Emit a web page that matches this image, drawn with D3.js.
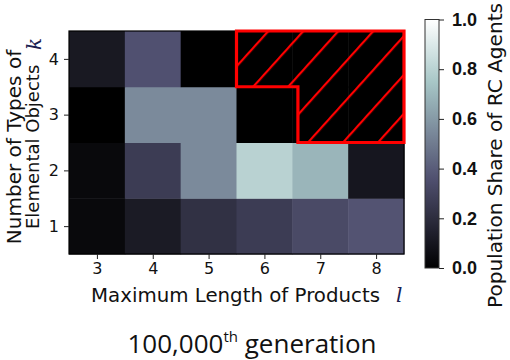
<!DOCTYPE html>
<html><head><meta charset="utf-8">
<script src="https://cdn.jsdelivr.net/npm/d3@7"></script>
<style>body{margin:0;background:#fff}svg{display:block}</style>
</head><body>
<svg id="c" width="510" height="360"></svg>
<script>
const lengths = [3, 4, 5, 6, 7, 8];
const types = [1, 2, 3, 4];
// rows by k (1..4), columns by l (3..8); null = not computed (hatched)
const shareK1 = [0.04, 0.12, 0.22, 0.27, 0.33, 0.37];
const shareK2 = [0.04, 0.27, 0.55, 0.80, 0.69, 0.10];
const shareK3 = [0.00, 0.55, 0.55, 0.00, null, null];
const shareK4 = [0.11, 0.36, 0.00, null, null, null];
const colorTicks = [0.0, 0.2, 0.4, 0.6, 0.8, 1.0];
const hatchOutline = [[5.5,4.5],[8.5,4.5],[8.5,2.5],[6.6,2.5],[6.6,3.5],[5.5,3.5]];

const rows = [shareK1, shareK2, shareK3, shareK4];
const cells = [];
rows.forEach((r, i) => r.forEach((v, j) => cells.push({k: types[i], l: lengths[j], v})));

// matplotlib "bone" colormap
function bone(t) {
  t = Math.max(0, Math.min(1, t));
  const seg = (pts) => {
    for (let i = 1; i < pts.length; i++) {
      if (t <= pts[i][0]) {
        const [x0, y0] = pts[i-1], [x1, y1] = pts[i];
        return y0 + (y1 - y0) * (t - x0) / (x1 - x0);
      }
    }
    return pts[pts.length-1][1];
  };
  const r = seg([[0,0],[0.746032,0.652778],[1,1]]);
  const g = seg([[0,0],[0.365079,0.319444],[0.746032,0.777778],[1,1]]);
  const b = seg([[0,0],[0.365079,0.444444],[1,1]]);
  return d3.rgb(r*255, g*255, b*255).formatHex();
}

const svg = d3.select('#c');
const x = d3.scaleLinear([2.5, 8.5], [69, 404]);
const y = d3.scaleLinear([0.5, 4.5], [254, 31]);

const defs = svg.append('defs');
const pat = defs.append('pattern').attr('id', 'hatch').attr('patternUnits', 'userSpaceOnUse')
  .attr('width', 26).attr('height', 26)
  .attr('patternTransform', 'translate(267,31) rotate(42)');
pat.append('line').attr('x1', 0).attr('y1', -5).attr('x2', 0).attr('y2', 31)
  .attr('stroke', '#ff0000').attr('stroke-width', 4.4);

// cells
svg.append('g').selectAll('rect').data(cells).join('rect')
  .attr('x', d => x(d.l - 0.5)).attr('y', d => y(d.k + 0.5))
  .attr('width', d => x(d.l + 0.5) - x(d.l - 0.5) + 0.5)
  .attr('height', d => y(d.k - 0.5) - y(d.k + 0.5) + 0.5)
  .attr('fill', d => d.v == null ? '#000' : bone(d.v));

// frame
svg.append('rect').attr('x', x(2.5)).attr('y', y(4.5))
  .attr('width', x(8.5) - x(2.5)).attr('height', y(0.5) - y(4.5))
  .attr('fill', 'none').attr('stroke', '#000').attr('stroke-width', 1.2);

// hatched region
const line = d3.line().x(d => x(d[0])).y(d => y(d[1]));
svg.append('path').attr('d', line(hatchOutline) + 'Z').attr('fill', 'url(#hatch)');
svg.append('path').attr('d', line(hatchOutline) + 'Z').attr('fill', 'none')
  .attr('stroke', '#ff0000').attr('stroke-width', 3.2).attr('stroke-linejoin', 'miter');

// axes
const xAxis = d3.axisBottom(x).tickValues(lengths).tickSize(5).tickPadding(4).tickFormat(d3.format('d'));
const gx = svg.append('g').attr('transform', `translate(0,${y(0.5)})`).call(xAxis);
const yAxis = d3.axisLeft(y).tickValues(types).tickSize(5).tickPadding(5).tickFormat(d3.format('d'));
const gy = svg.append('g').attr('transform', `translate(${x(2.5)},0)`).call(yAxis);
[gx, gy].forEach(g => {
  g.select('.domain').remove();
  g.selectAll('text').attr('font-family', 'DejaVu Sans').attr('font-size', 16).attr('fill', '#111');
  g.selectAll('line').attr('stroke', '#222');
});

// axis titles
svg.append('text').attr('x', 91).attr('y', 302)
  .attr('font-family', 'DejaVu Sans').attr('font-size', 20).attr('fill', '#111')
  .attr('textLength', 289).attr('lengthAdjust', 'spacingAndGlyphs')
  .text('Maximum Length of Products');
svg.append('text').attr('x', 396).attr('y', 302)
  .attr('font-family', 'DejaVu Serif').attr('font-style', 'italic').attr('font-size', 20).attr('fill', '#1a2050')
  .text('l');

svg.append('text').attr('transform', 'translate(21,147) rotate(-90)').attr('text-anchor', 'middle')
  .attr('font-family', 'DejaVu Sans').attr('font-size', 20).attr('fill', '#111')
  .text('Number of Types of');
svg.append('text').attr('transform', 'translate(39,229) rotate(-90)').attr('text-anchor', 'start')
  .attr('font-family', 'DejaVu Sans').attr('font-size', 18).attr('fill', '#111')
  .text('Elemental Objects');
svg.append('text').attr('transform', 'translate(41,50) rotate(-90)').attr('text-anchor', 'start')
  .attr('font-family', 'DejaVu Serif').attr('font-style', 'italic').attr('font-size', 20).attr('fill', '#1a2050')
  .text('k');

// colorbar
const cy = d3.scaleLinear([0, 1], [268, 19.5]);
const grad = defs.append('linearGradient').attr('id', 'cbar')
  .attr('x1', 0).attr('y1', 1).attr('x2', 0).attr('y2', 0);
d3.range(0, 1.0001, 0.05).forEach(t => grad.append('stop').attr('offset', t).attr('stop-color', bone(t)));
svg.append('rect').attr('x', 425).attr('y', cy(1)).attr('width', 14).attr('height', cy(0) - cy(1))
  .attr('fill', 'url(#cbar)').attr('stroke', '#333').attr('stroke-width', 1);
const cAxis = d3.axisRight(cy).tickValues(colorTicks).tickSize(5).tickPadding(8).tickFormat(d3.format('.1f'));
const gc = svg.append('g').attr('transform', 'translate(439,0)').call(cAxis);
gc.select('.domain').remove();
gc.selectAll('line').attr('stroke', '#222');
gc.selectAll('text').attr('font-family', 'Liberation Sans').attr('font-weight', 'bold')
  .attr('font-size', 18).attr('fill', '#111');
svg.append('text').attr('transform', 'translate(502,308) rotate(-90)').attr('text-anchor', 'start')
  .attr('font-family', 'DejaVu Sans').attr('font-size', 19).attr('fill', '#111')
  .attr('textLength', 305).attr('lengthAdjust', 'spacingAndGlyphs')
  .text('Population Share of RC Agents');

// title
const t = svg.append('text').attr('x', 252).attr('y', 353).attr('text-anchor', 'middle')
  .attr('font-family', 'Open Sans').attr('font-size', 26).attr('fill', '#111');
t.append('tspan').text('100,000');
t.append('tspan').attr('font-size', 15).attr('dy', -11).text('th');
t.append('tspan').attr('dy', 11).text(' generation');
</script>
</body></html>
